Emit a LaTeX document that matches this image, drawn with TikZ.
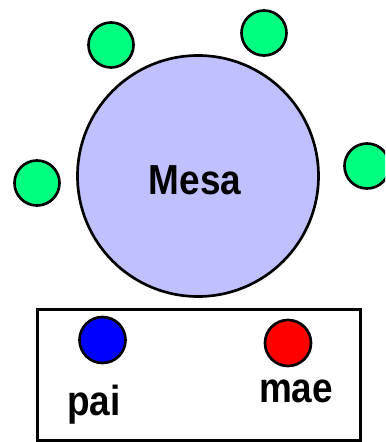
\documentclass[tikz,border=0pt]{standalone}
\usepackage{fontspec}
\setmainfont{Liberation Sans}
\definecolor{seat}{HTML}{00FF80}
\definecolor{table}{HTML}{C0C0FF}
\begin{document}
\begin{tikzpicture}[x=0.75pt,y=-0.75pt,
  seatc/.style={circle,draw=black,line width=2pt,fill=seat,minimum size=45*0.75pt,inner sep=0pt},
  parent/.style={circle,draw=black,line width=2pt,minimum size=46*0.75pt,inner sep=0pt},
  lbl/.style={font=\fontsize{31.5}{33}\selectfont\bfseries,xscale=0.88,inner sep=0pt}]
\useasboundingbox (0,0) rectangle (385,442);
\clip (0,0) rectangle (385,442);
\node[circle,draw=black,line width=2pt,fill=table,minimum size=241*0.75pt,inner sep=0pt] (mesa) at (198,176) {};
\node[lbl] (mesat) at (195,180) {Mesa};
\node[seatc] (s1) at (111,45) {};
\node[seatc] (s2) at (264,33) {};
\node[seatc] (s3) at (37,183) {};
\node[seatc] (s4) at (367,166) {};
\node[draw=black,line width=2.2pt,minimum width=323*0.75pt,minimum height=131*0.75pt,inner sep=0pt] (box) at (199,375) {};
\node[parent,fill=blue] (pai) at (102.5,340) {};
\node[parent,fill=red] (mae) at (288,343) {};
\node[lbl,anchor=base] (pait) at (94,415) {pai};
\node[lbl,anchor=base] (maet) at (296,402) {mae};
\end{tikzpicture}
\end{document}
